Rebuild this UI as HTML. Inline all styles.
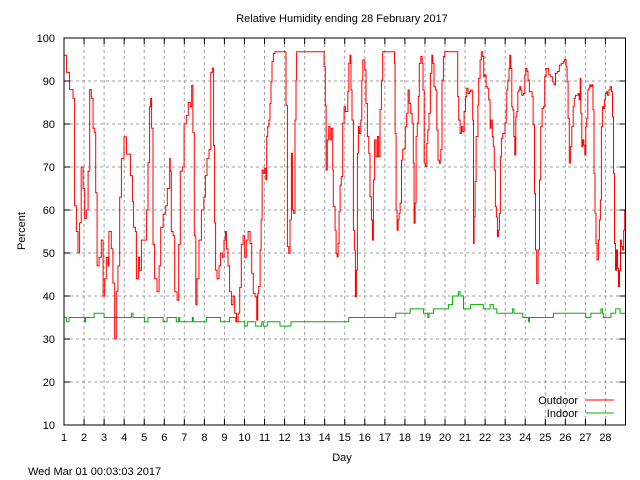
<!DOCTYPE html>
<html><head><meta charset="utf-8"><style>
body{margin:0;background:#fff;}
svg{display:block;font-family:"Liberation Sans",sans-serif;font-size:11px;}
</style></head><body>
<svg id="chart" width="640" height="480" viewBox="0 0 640 480">
<rect width="640" height="480" fill="#fff"/>
<text x="342" y="22" text-anchor="middle">Relative Humidity ending 28 February 2017</text>
<text x="342" y="461" text-anchor="middle">Day</text>
<text transform="translate(25,231) rotate(-90)" text-anchor="middle">Percent</text>
<text x="28" y="475">Wed Mar 01 00:03:03 2017</text>
<g id="grid"></g>
<g id="series"></g>
<rect x="64" y="38" width="561.5" height="387" fill="none" stroke="#000" stroke-width="1"/>
<g id="ticks"></g>
<g>
<text x="578" y="404" text-anchor="end">Outdoor</text>
<line x1="586" y1="400" x2="614" y2="400" stroke="#f00"/>
<text x="578" y="417" text-anchor="end">Indoor</text>
<line x1="586" y1="413" x2="614" y2="413" stroke="#0b0"/>
</g>
</svg>
<script>
const yTicks=[10,20,30,40,50,60,70,80,90,100];
const xTicks=[1,2,3,4,5,6,7,8,9,10,11,12,13,14,15,16,17,18,19,20,21,22,23,24,25,26,27,28];
const outDays=[1.00,1.12,1.28,1.45,1.53,1.62,1.70,1.78,1.86,1.95,2.03,2.11,2.20,2.28,2.36,2.45,2.53,2.58,2.65,2.75,2.86,2.95,3.03,3.11,3.19,3.24,3.36,3.44,3.53,3.61,3.69,3.78,3.86,3.99,4.11,4.19,4.31,4.41,4.47,4.56,4.61,4.71,4.77,4.86,5.02,5.11,5.19,5.27,5.32,5.37,5.44,5.52,5.64,5.74,5.82,5.94,6.07,6.15,6.27,6.30,6.35,6.44,6.52,6.64,6.72,6.80,6.90,6.99,7.10,7.20,7.30,7.37,7.43,7.50,7.57,7.63,7.73,7.85,7.97,8.05,8.13,8.23,8.32,8.40,8.46,8.51,8.56,8.63,8.73,8.81,8.90,8.98,9.05,9.10,9.18,9.26,9.35,9.43,9.51,9.60,9.68,9.76,9.84,9.93,10.01,10.09,10.18,
10.28,10.36,10.44,10.53,10.61,10.66,10.71,10.78,10.83,10.88,10.94,11.01,11.07,11.11,11.16,11.22,11.27,11.32,11.37,11.44,11.52,12.02,12.07,12.14,12.21,12.27,12.34,12.39,12.45,12.52,12.57,12.60,13.90,13.97,14.03,14.07,14.13,14.20,14.27,14.33,14.40,14.43,14.52,14.57,14.62,14.67,14.72,14.77,14.83,14.90,14.97,15.03,15.10,15.15,15.20,15.26,15.31,15.36,15.43,15.48,15.53,15.58,15.63,15.68,15.73,15.80,15.85,15.90,15.95,16.00,16.06,16.13,16.20,16.26,16.33,16.38,16.43,16.49,16.56,16.63,16.69,16.76,16.83,16.89,17.43,17.48,17.51,17.56,17.61,17.66,17.71,17.76,17.83,17.89,17.96,18.02,18.09,18.16,18.22,18.29,18.36,18.42,18.46,18.51,18.56,18.62,18.67,18.72,18.79,18.86,18.90,18.96,19.02,19.09,19.14,19.20,19.27,19.34,19.39,19.45,19.52,19.59,19.65,19.72,19.79,19.85,19.92,19.99,
20.58,20.63,20.68,20.75,20.82,20.88,20.95,21.02,21.08,21.15,21.22,21.28,21.35,21.38,21.42,21.45,21.50,21.55,21.64,21.68,21.75,21.81,21.88,21.93,21.98,22.05,22.11,22.18,22.25,22.30,22.36,22.41,22.46,22.51,22.56,22.61,22.66,22.71,22.76,22.81,22.88,22.95,22.99,23.05,23.08,23.13,23.19,23.23,23.28,23.33,23.38,23.43,23.48,23.53,23.58,23.63,23.68,23.73,23.78,23.83,23.91,23.98,24.03,24.09,24.14,24.21,24.28,24.34,24.39,24.46,24.51,24.57,24.64,24.71,24.77,24.84,24.91,24.97,25.04,25.11,25.17,25.27,25.37,25.44,25.51,25.60,25.70,25.80,25.90,25.97,26.04,26.09,26.14,26.20,26.25,26.32,26.39,26.44,26.50,26.57,26.64,26.69,26.74,26.77,26.82,26.87,26.92,26.97,27.02,27.07,27.12,27.17,27.22,27.27,27.33,27.38,27.43,27.48,27.53,27.58,27.65,27.70,27.75,27.80,27.85,27.90,27.95,28.00,28.05,28.10,28.17,28.23,28.30,28.35,28.40,28.45,28.50,28.55,28.60,28.65,28.70,28.75,28.81,28.86,28.91,28.96];
const outValues=[96,92,88,86,61,55,50,57,70,65,58,60,69,88,86,79,78,64,47,49,53,40,44,49,47,55,51,43,30,41,47,63,72,77,73,73,68,62,56,55,44,49,46,53,53,60,71,84,86,79,52,44,41,47,56,59,61,65,72,69,55,54,41,39,52,69,70,80,82,85,84,89,78,54,38,44,53,60,63,68,72,74,92,93,75,57,46,44,47,50,49,53,55,51,47,41,38,40,36,34,36,42,52,54,49,53,55,
52.2,45.3,40.6,39.8,34.4,40.6,42.2,50.7,57.7,69.3,68.5,69.7,67.0,77.1,79.4,80.9,84.8,89.8,94.5,96.4,96.8,96.8,84.4,51.5,49.9,57.7,73.2,60.0,59.2,80.9,90.2,96.8,96.8,93.3,84.4,69.3,76.3,79.4,76.3,79.0,69.3,60.8,55.3,49.9,49.1,52.2,59.6,65.8,67.8,80.2,84.0,82.9,82.9,87.5,94.1,96.0,87.9,80.9,55.3,50.7,39.8,46.0,73.2,79.4,77.8,80.9,90.2,94.9,94.9,92.6,84.8,77.1,73.2,63.1,57.7,53.0,67.0,76.3,72.4,77.1,72.4,83.3,90.2,96.8,96.8,94.1,77.8,60.0,55.3,57.7,59.2,61.6,71.6,74.0,74.3,79.4,82.5,87.9,84.8,82.5,80.2,70.9,56.9,61.6,77.1,80.2,86.4,94.1,95.7,94.1,87.9,70.9,70.1,75.5,78.6,82.5,91.8,96.0,94.1,88.7,87.9,78.6,71.6,70.9,74.0,90.2,95.7,96.8,
96.8,86.4,80.9,77.8,79.4,78.2,82.9,86.4,88.3,87.1,87.5,87.9,87.5,80.9,52.2,58.4,66.6,77.1,84.4,90.6,94.9,96.8,95.7,91.0,91.4,88.7,88.3,85.6,79.0,80.9,77.1,74.7,69.3,60.8,58.4,53.8,55.3,59.2,72.4,76.7,77.8,77.8,80.2,83.3,87.9,90.2,92.9,96.0,92.9,84.0,83.3,77.1,72.8,81.7,82.9,87.5,87.9,88.7,87.9,86.7,87.1,91.4,92.9,92.2,90.2,87.5,87.5,86.4,79.8,63.9,50.7,42.9,50.7,67.0,79.4,83.6,84.0,91.0,92.9,92.9,91.4,91.0,89.8,89.1,91.8,92.2,93.7,94.1,94.5,95.0,93.3,89.8,81.3,70.9,74.7,79.4,84.0,86.0,86.7,86.7,87.1,85.6,90.6,82.5,74.7,76.3,75.1,72.8,79.4,81.3,87.9,88.3,89.1,88.7,89.1,83.3,68.5,59.2,52.2,48.4,53.0,57.7,62.3,79.4,84.0,83.6,85.6,87.1,87.5,86.7,87.9,88.7,87.5,81.7,68.5,52.2,46.0,50.7,46.4,42.2,46.0,53.0,51.5,50.7,55.3,60.0];
const inDays=[1.00,1.12,1.25,2.03,2.08,2.50,3.00,4.36,4.44,5.02,5.19,5.94,6.14,6.60,6.72,6.77,7.40,7.45,8.10,8.81,9.26,9.56,10.01,10.14,10.56,10.86,10.94,11.14,11.77,12.32,15.20,17.54,18.26,18.92,19.14,19.20,19.42,20.17,20.38,20.67,20.75,20.92,21.28,21.91,22.25,22.41,22.58,23.36,23.44,23.88,24.16,24.21,25.41,27.02,27.27,27.78,27.85,27.90,28.27,28.51,28.73,29.00];
const inValues=[35,34,35,34,35,36,35,36,35,34,35,34,35,34,35,34,35,34,35,34,35,34,33,34,33,34,33,34,33,34,35,36,37,36,35,36,37,38,40,41,40,37,38,37,38,37,36,37,36,35,34,35,36,35,36,37,36,35,36,37,36,36];

const NS="http://www.w3.org/2000/svg";
const X0=64,X1=625.5,Y0=425,Y1=38;
function xScale(d){return X0+(d-1)*(X1-X0)/28;}
function yScale(v){return Y0-(v-10)*(Y0-Y1)/90;}
function mk(tag,attrs,parent){const e=document.createElementNS(NS,tag);for(const k in attrs)e.setAttribute(k,attrs[k]);parent.appendChild(e);return e;}
const grid=document.getElementById('grid'),ticks=document.getElementById('ticks'),series=document.getElementById('series');
yTicks.forEach(v=>{
  const y=yScale(v);
  if(v>10&&v<100){const g=mk('line',{x1:X0,x2:X1,y1:y,y2:y,stroke:'#a0a0a0','stroke-dasharray':'3,3'},grid);
  
  }
  const t=mk('path',{d:`M${X0},${y}h6M${X1},${y}h-6`,stroke:'#000'},ticks);
  
  
  const l=mk('text',{x:55,y:y+4,'text-anchor':'end'},ticks);l.textContent=v;
  
  
});
xTicks.forEach(d=>{
  const x=xScale(d);
  if(d>1){const g=mk('line',{x1:x,x2:x,y1:Y1,y2:Y0,stroke:'#a0a0a0','stroke-dasharray':'3,3'},grid);
  
  }
  const t=mk('path',{d:`M${x},${Y0}v-6M${x},${Y1}v6`,stroke:'#000'},ticks);
  
  
  const l=mk('text',{x:x,y:441,'text-anchor':'middle'},ticks);l.textContent=d;
  
  
});
function stepPath(days,vals){let d='';for(let i=0;i<days.length;i++){const x=xScale(days[i]).toFixed(1),y=yScale(vals[i]).toFixed(1);
  if(i===0)d+=`M${x},${y}`;else d+=`H${x}V${y}`;}
  return d;}
const inP=mk('path',{d:stepPath(inDays,inValues)+`H${xScale(29)}`,fill:'none',stroke:'#00b000','stroke-width':1},series);


const outP=mk('path',{d:stepPath(outDays,outValues)+`H${xScale(29)}`,fill:'none',stroke:'#f00','stroke-width':1},series);


</script>
</body></html>
